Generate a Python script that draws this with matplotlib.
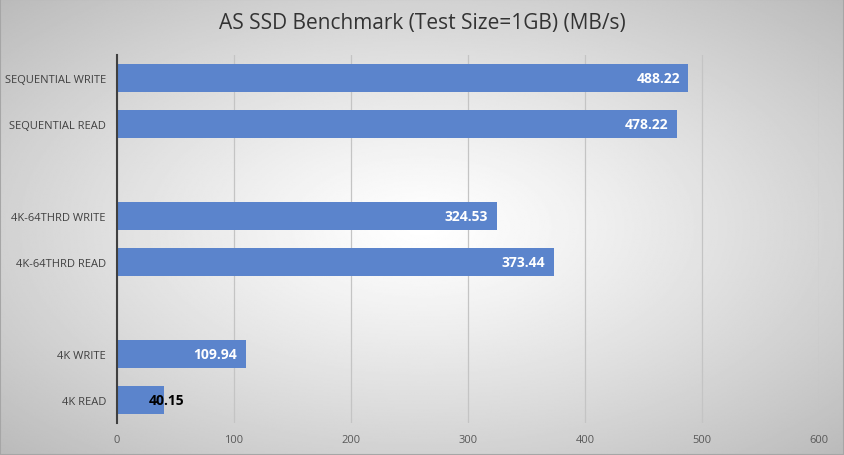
import matplotlib.pyplot as plt
import numpy as np

plt.rcParams['font.family'] = ['Open Sans', 'DejaVu Sans']

# data, top to bottom; empty strings are the spacer rows
categories = ['SEQUENTIAL WRITE', 'SEQUENTIAL READ', '',
              '4K-64THRD WRITE', '4K-64THRD READ', '',
              '4K WRITE', '4K READ']
values = [488.22, 478.22, np.nan, 324.53, 373.44, np.nan, 109.94, 40.15]
xticks = [0, 100, 200, 300, 400, 500, 600]

fig = plt.figure(figsize=(8.44, 4.56), dpi=100)

# radial gradient background
bg = fig.add_axes([0, 0, 1, 1], zorder=-10)
yy, xx = np.mgrid[-1:1:300j, -1:1:600j]
r = np.sqrt(xx**2 + yy**2) / np.sqrt(2)
bg.imshow(1 - 0.27 * r**1.2, cmap='gray', vmin=0, vmax=1, aspect='auto',
          extent=[0, 1, 0, 1], interpolation='bilinear')
bg.set_xlim(0, 1)
bg.set_ylim(0, 1)
bg.set_xticks([])
bg.set_yticks([])
for s in bg.spines.values():
    s.set_color('#a6a6a6')
    s.set_linewidth(1.5)

ax = fig.add_axes([117 / 844, 32 / 456, 702 / 844, 368 / 456])
ax.patch.set_alpha(0)

pos = np.arange(len(categories))
ax.barh(pos, values, height=0.59, color='#5b84cc', zorder=3)
ax.set_yticks(pos)
ax.set_yticklabels(categories, fontsize=8, color='#404040')
ax.set_ylim(len(categories) - 0.5, -0.5)
ax.set_xlim(0, 600)
ax.set_xticks(xticks)
ax.tick_params(axis='x', labelsize=8, labelcolor='#595959', length=0, pad=8)
ax.tick_params(axis='y', length=0, pad=8)

ax.grid(axis='x', color='#c4c4c4', linewidth=0.9, zorder=0)
for s in ['top', 'right', 'bottom']:
    ax.spines[s].set_visible(False)
ax.spines['left'].set_color('#404040')
ax.spines['left'].set_linewidth(1.5)
ax.spines['left'].set_zorder(4)

for p, v in zip(pos, values):
    if np.isnan(v):
        continue
    if v < 60:
        ax.annotate(f'{v:.2f}', (v, p), xytext=(2, 0), textcoords='offset points',
                    ha='center', va='center', fontsize=10, fontweight='bold',
                    color='black', zorder=5)
    else:
        ax.annotate(f'{v:.2f}', (v, p), xytext=(-6, 0), textcoords='offset points',
                    ha='right', va='center', fontsize=10, fontweight='bold',
                    color='white', zorder=5)

fig.text(0.5, 1 - 24 / 456, 'AS SSD Benchmark (Test Size=1GB) (MB/s)',
         ha='center', va='center', fontsize=15, color='#333333')

fig.savefig('out.png', dpi=100)
